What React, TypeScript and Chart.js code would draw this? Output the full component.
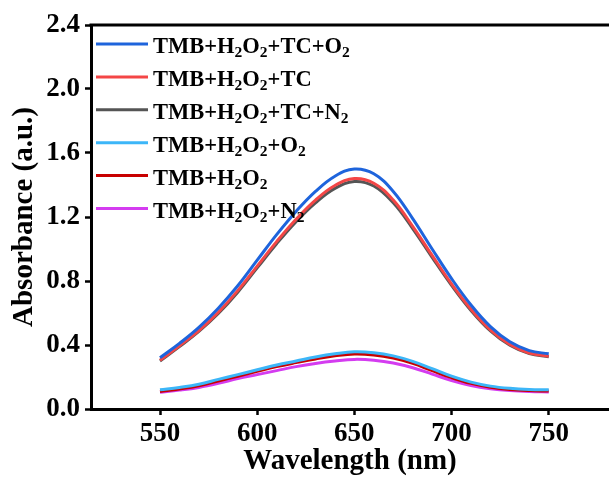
import React, { useEffect, useRef } from "react";
import { Chart, registerables } from "chart.js";

Chart.register(...registerables);

const wavelengths = [550, 560, 570, 580, 590, 600, 610, 620, 630, 640, 650, 660, 670, 680, 690, 700, 710, 720, 730, 740, 750];

const tmbH2O2TcO2 = [0.32, 0.41, 0.51, 0.63, 0.77, 0.93, 1.09, 1.235, 1.36, 1.455, 1.5, 1.47, 1.36, 1.19, 1.0, 0.815, 0.65, 0.515, 0.42, 0.365, 0.345];
const tmbH2O2Tc = [0.305, 0.395, 0.49, 0.605, 0.74, 0.893, 1.046, 1.186, 1.306, 1.397, 1.44, 1.411, 1.306, 1.142, 0.96, 0.782, 0.624, 0.494, 0.403, 0.35, 0.33];
const tmbH2O2TcN2 = [0.3, 0.39, 0.485, 0.597, 0.73, 0.882, 1.033, 1.171, 1.289, 1.379, 1.422, 1.394, 1.289, 1.128, 0.948, 0.773, 0.616, 0.488, 0.398, 0.346, 0.327];
const tmbH2O2O2 = [0.12, 0.135, 0.155, 0.185, 0.215, 0.245, 0.275, 0.3, 0.325, 0.345, 0.358, 0.352, 0.332, 0.298, 0.252, 0.205, 0.168, 0.143, 0.129, 0.122, 0.12];
const tmbH2O2 = [0.11, 0.125, 0.145, 0.175, 0.205, 0.235, 0.265, 0.29, 0.313, 0.332, 0.344, 0.338, 0.318, 0.285, 0.24, 0.196, 0.16, 0.136, 0.122, 0.115, 0.112];
const tmbH2O2N2 = [0.105, 0.118, 0.135, 0.16, 0.19, 0.215, 0.24, 0.265, 0.285, 0.3, 0.31, 0.305, 0.288, 0.258, 0.218, 0.178, 0.147, 0.127, 0.115, 0.109, 0.107];

const seriesLabels = ["TMB+H2O2+TC+O2", "TMB+H2O2+TC", "TMB+H2O2+TC+N2", "TMB+H2O2+O2", "TMB+H2O2", "TMB+H2O2+N2"];
const seriesColors = ["#1E64DC", "#F44646", "#555555", "#3CB6F8", "#C80000", "#D43CF0"];
const seriesValues = [tmbH2O2TcO2, tmbH2O2Tc, tmbH2O2TcN2, tmbH2O2O2, tmbH2O2, tmbH2O2N2];

const xTicks = [550, 600, 650, 700, 750];
const yTicks = [0, 0.4, 0.8, 1.2, 1.6, 2.0, 2.4];

const xTitle = "Wavelength (nm)";
const yTitle = "Absorbance (a.u.)";

const FAMILY = '"Liberation Serif", "Times New Roman", serif';

const framePlugin = {
  id: "frameTop",
  afterDraw(chart: any) {
    const { ctx, chartArea } = chart;
    ctx.save();
    ctx.strokeStyle = "#000";
    ctx.lineWidth = 3;
    ctx.beginPath();
    ctx.moveTo(chartArea.left - 1.5, chartArea.top);
    ctx.lineTo(chartArea.right, chartArea.top);
    ctx.stroke();
    ctx.restore();
  },
};

const legendPlugin = {
  id: "subLegend",
  afterDatasetsDraw(chart: any) {
    const { ctx } = chart;
    const x0 = 96;
    const x1 = 148;
    const tx = 153;
    const y0 = 44;
    const dy = 32.9;
    ctx.save();
    chart.data.datasets.forEach((ds: any, i: number) => {
      const y = y0 + i * dy;
      ctx.strokeStyle = ds.borderColor;
      ctx.lineWidth = 3;
      ctx.beginPath();
      ctx.moveTo(x0, y);
      ctx.lineTo(x1, y);
      ctx.stroke();
      const base = y + 9.3;
      let x = tx;
      ctx.fillStyle = "#000";
      ctx.textBaseline = "alphabetic";
      ctx.textAlign = "left";
      const label: string = ds.label;
      let buf = "";
      const flush = () => {
        if (!buf) return;
        ctx.font = `bold 22.5px ${FAMILY}`;
        ctx.fillText(buf, x, base);
        x += ctx.measureText(buf).width;
        buf = "";
      };
      for (const ch of label) {
        if (/[0-9]/.test(ch)) {
          flush();
          ctx.font = `bold 15.5px ${FAMILY}`;
          ctx.fillText(ch, x, base + 4);
          x += ctx.measureText(ch).width;
        } else {
          buf += ch;
        }
      }
      flush();
    });
    ctx.restore();
  },
};

export default function App() {
  const ref = useRef<HTMLCanvasElement>(null);
  useEffect(() => {
    const canvas = ref.current!;
    const chart = new Chart(canvas, {
      type: "line",
      data: {
        datasets: seriesLabels.map((label, i) => ({
          label,
          data: wavelengths.map((w, j) => ({ x: w, y: seriesValues[i][j] })),
          borderColor: seriesColors[i],
          backgroundColor: seriesColors[i],
          borderWidth: 3,
          pointRadius: 0,
          tension: 0.4,
          fill: false,
        })),
      },
      options: {
        animation: false,
        responsive: false,
        devicePixelRatio: 1,
        layout: { padding: { top: 25, right: 0, left: 0, bottom: 0 } },
        plugins: { legend: { display: false }, tooltip: { enabled: false } },
        scales: {
          x: {
            type: "linear",
            min: 514.5,
            max: 781,
            afterBuildTicks: (s: any) => {
              s.ticks = xTicks.map((v) => ({ value: v }));
            },
            afterFit: (s: any) => {
              s.height = 72;
            },
            border: { display: true, color: "#000", width: 3 },
            grid: { drawOnChartArea: false, drawTicks: true, tickLength: 6, tickWidth: 2.5, tickColor: "#000" },
            ticks: {
              color: "#000",
              padding: 3,
              font: { family: FAMILY, size: 27, weight: "bold" },
              callback: (v: any) => String(v),
              maxRotation: 0,
            },
            title: {
              display: true,
              text: xTitle,
              color: "#000",
              font: { family: FAMILY, size: 29, weight: "bold" },
              padding: { top: 0, bottom: 2 },
            },
          },
          y: {
            type: "linear",
            min: 0,
            max: 2.4,
            afterBuildTicks: (s: any) => {
              s.ticks = yTicks.map((v) => ({ value: v }));
            },
            afterFit: (s: any) => {
              s.width = 91;
            },
            border: { display: true, color: "#000", width: 3 },
            grid: { drawOnChartArea: false, drawTicks: true, tickLength: 6, tickWidth: 2.5, tickColor: "#000" },
            ticks: {
              color: "#000",
              padding: 5,
              font: { family: FAMILY, size: 27, weight: "bold" },
              callback: (v: any) => Number(v).toFixed(1),
            },
            title: {
              display: true,
              text: yTitle,
              color: "#000",
              font: { family: FAMILY, size: 29, weight: "bold" },
              padding: { top: 7, bottom: 0 },
            },
          },
        },
      } as any,
      plugins: [framePlugin, legendPlugin],
    });
    return () => chart.destroy();
  }, []);
  return (
    <div style={{ position: "absolute", left: 0, top: 0, width: 609, height: 481, background: "#fff" }}>
      <canvas ref={ref} width={609} height={481} style={{ display: "block" }} />
    </div>
  );
}
